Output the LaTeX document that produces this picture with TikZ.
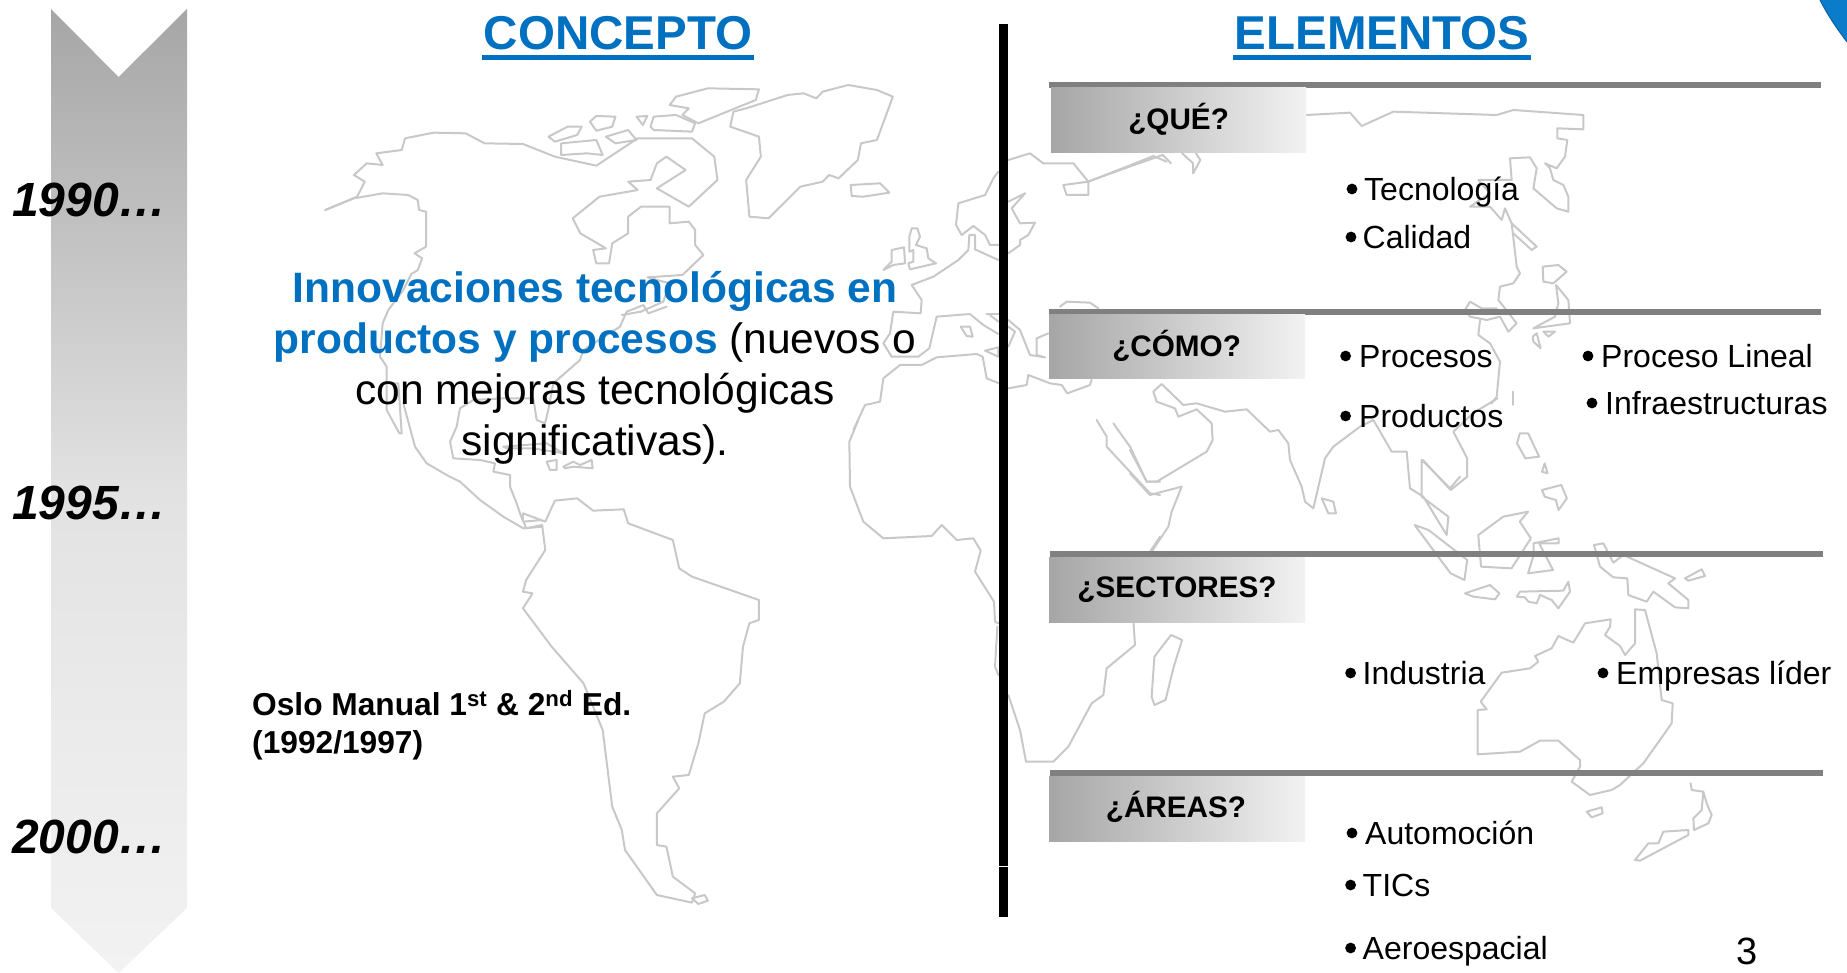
\documentclass[tikz,border=0pt]{standalone}
\usepackage{fontspec}
\setmainfont{Liberation Sans}
\definecolor{titleblue}{HTML}{0070C0}
\definecolor{rulegrey}{HTML}{808080}
\definecolor{mapgrey}{HTML}{C8C8C8}
\definecolor{darkgrad}{HTML}{A6A6A6}
\definecolor{midgrad}{HTML}{E2E2E2}
\definecolor{midlow}{HTML}{EAEAEA}
\definecolor{lightgrad}{HTML}{F2F2F2}
\definecolor{cornerblue}{HTML}{0A7CC9}
\definecolor{corneredge}{HTML}{0A639F}
\pgfdeclareverticalshading{timeline}{100bp}{color(0bp)=(lightgrad); color(25bp)=(lightgrad); color(39bp)=(midlow); color(50bp)=(midgrad); color(75bp)=(darkgrad); color(100bp)=(darkgrad)}
\tikzset{
  zA/.style={shift={(0,0)},x=0.63776pt,y=-0.33333pt},
  zB/.style={shift={(0,480)},x=0.63776pt,y=-0.33333pt},
  zC/.style={shift={(980,0)},x=0.55363pt,y=-0.33333pt},
  zD/.style={shift={(980,480)},x=0.55363pt,y=-0.33333pt},
  zI/.style={shift={#1},x=0.33333pt,y=-0.33333pt},
  maplines/.style={draw=mapgrey,line width=2pt,line join=round,line cap=round},
  title/.style={anchor=base,inner sep=0pt,text=titleblue,font=\fontsize{47.5}{50}\selectfont\bfseries},
  year/.style={anchor=base east,inner sep=0pt,font=\fontsize{48}{50}\selectfont\bfseries\itshape},
  boxlabel/.style={anchor=base,inner sep=0pt,font=\fontsize{29.7}{32}\selectfont\bfseries},
  item/.style={anchor=base west,inner sep=0pt,font=\fontsize{32}{34}\selectfont},
  band/.style={fill=rulegrey,draw=none},
  qbox/.style={left color=darkgrad,middle color=midgrad,right color=lightgrad,draw=none},
}
\begin{document}
\begin{tikzpicture}[x=1pt,y=-1pt]
\useasboundingbox (0,0) rectangle (1847,973);
% ---------- world map ----------
\begin{scope}[zA]
\draw[maplines] (510,630)--(555,595)--(600,580)--(640,585)--(655,600)--(657,630)--(668,635)--(668,740)--(650,760)--(662,775)--(655,810)--(647,820);
\draw[maplines] (510,630)--(560,590)--(572,545)--(555,525)--(575,490)--(600,495)--(590,460)--(630,450)--(635,415)--(680,398)--(730,400)--(760,430)--(820,432)--(870,470)--(935,497)--(1000,415)--(1085,415)--(1120,470)--(1125,540)--(1080,620)--(1030,565)--(1075,510)--(1045,470)--(1030,490)--(1020,540)--(985,545)--(1000,570)--(940,590)--(898,655)--(910,700)--(950,745)--(930,750)--(935,790)--(955,790)--(960,730)--(985,700)--(985,650)--(1005,620)--(1050,620)--(1050,670)--(1080,665)--(1090,690)--(1090,735)--(1103,765)--(1070,825)--(1015,832)--(1050,850)--(1040,905)--(1005,935)--(975,945);
\draw[maplines] (1150,335)--(1145,380)--(1190,410)--(1193,470)--(1170,540)--(1175,650)--(1205,655)--(1255,560)--(1290,545)--(1300,525)--(1315,535)--(1345,480)--(1350,430)--(1375,420)--(1400,290)--(1375,270)--(1330,255)--(1290,275)--(1280,295)--(1260,280)--(1235,285)--(1170,325)--cycle;
\draw[maplines] (1050,315)--(1060,290)--(1110,265)--(1190,268)--(1185,300)--(1095,370)--(1070,345)--(1080,325)--cycle;
\draw[maplines] (860,410)--(890,380)--(912,380)--(905,405)--(870,425)--cycle;
\draw[maplines] (925,365)--(935,348)--(965,350)--(960,380)--(935,392)--cycle;
\draw[maplines] (998,350)--(1015,348)--(1008,375)--cycle;
\draw[maplines] (1020,380)--(1025,350)--(1060,345)--(1090,370)--(1085,395)--(1025,390)--cycle;
\draw[maplines] (950,410)--(985,390)--(998,420)--(965,430)--cycle;
\draw[maplines] (880,430)--(935,420)--(945,465)--(920,460)--(880,465)--cycle;
\end{scope}
\begin{scope}[zI={(360,270)}]
\draw[maplines] (155,10)--(130,60)--(85,120)--(68,160)--(60,260)--(80,290)--(80,420)--(118,490)--(125,490)--(115,340)--(80,340);
\draw[maplines] (130,400)--(165,530)--(200,580)--(260,615)--(300,635)--(360,690)--(430,740)--(490,775)--(548,770);
\draw[maplines] (340,390)--(300,415)--(290,470)--(270,515)--(280,565)--(360,570)--(405,580)--(400,605)--(450,615)--(450,650)--(470,700)--(480,730)--(490,755)--(545,750);
\draw[maplines] (340,390)--(430,385)--(520,385)--(530,450)--(555,460)--(565,420)--(580,340)--(660,270)--(670,240)--(780,170)--(800,125)--(850,105)--(865,130)--(920,110);
\draw[maplines] (430,530)--(560,520)--(610,550)--(520,535)--(440,535)--cycle;
\draw[maplines] (560,575)--(590,570)--(590,600)--(570,600)--cycle;
\draw[maplines] (610,590)--(640,575)--(660,585)--(695,570)--(698,595)--(640,590)--(615,595)--cycle;
\end{scope}
\begin{scope}[zB]
\draw[maplines] (850,135)--(855,210)--(825,300)--(820,335)--(835,340)--(820,385)--(865,500)--(915,610)--(945,750)--(960,980)--(975,1050)--(980,1110)--(1030,1245)--(1085,1268)--(1090,1240)--(1055,1190)--(1045,1100)--(1030,1095)--(1030,1000)--(1065,925)--(1055,890)--(1080,885)--(1095,790)--(1105,700)--(1135,665)--(1160,610)--(1165,500)--(1175,430)--(1190,420)--(1190,360)--(1085,290)--(1065,265)--(1055,180)--(985,130)--(978,88)--(930,92)--(905,55)--(870,62)--(855,125)--(820,100)--(820,120);
\draw[maplines] (820,120)--(825,145)--(850,135);
\draw[maplines] (1085,1255)--(1105,1245)--(1110,1262)--(1095,1272)--cycle;
\end{scope}
\begin{scope}[zI={(830,130)}]
\draw[maplines] (62,165)--(150,160)--(178,188)--(100,200)--(65,198)--cycle;
\draw[maplines] (160,420)--(185,395)--(185,360)--(222,352)--(225,400)--(190,405)--cycle;
\draw[maplines] (238,320)--(245,295)--(262,295)--(270,320)--(258,345)--(290,355)--(295,385)--(318,400)--(240,418)--(235,400)--(250,395)--(250,360)--(238,365)--cycle;
\draw[maplines] (505,125)--(490,145)--(465,195)--(385,220)--(378,285)--(395,315)--(430,288)--(465,315)--(480,345)--(507,345);
\draw[maplines] (505,390)--(435,358)--(435,315)--(418,315)--(415,360)--(385,390)--(310,440)--(245,465)--(275,510)--(272,550)--(190,545)--(180,610)--(160,640)--(185,680)--(265,680)--(298,655)--(320,560)--(420,552)--(460,585)--(505,612);
\draw[maplines] (392,590)--(420,590)--(428,620)--(410,618)--cycle;
\draw[maplines] (465,662)--(505,652)--(505,680)--cycle;
\draw[maplines] (470,552)--(507,552);
\draw[maplines] (480,555)--(505,575);
\draw[maplines] (535,570)--(570,600)--(600,675)--(645,682)--(620,675)--(620,625)--(655,610);
\draw[maplines] (535,590)--(555,605)--(535,650);
\draw[maplines] (70,900)--(105,825)--(150,815)--(160,745)--(210,705)--(275,705)--(320,682)--(440,672)--(458,680)--(470,745)--(507,760);
\draw[maplines] (535,775)--(590,765)--(595,735)--(660,760)--(695,765)--(712,790)--(780,765)--(785,748);
\draw[maplines] (690,530)--(710,515)--(780,518)--(805,535);
\draw[maplines] (535,90)--(600,70)--(640,100)--(730,100)--(775,155)--(700,165)--(710,195)--(775,195)--(775,155)--(890,110)--(970,78)--(1010,95);
\draw[maplines] (535,215)--(585,190)--(545,235)--(570,280)--(615,278)--(595,315)--(570,330)--(570,345)--(535,370);
\end{scope}
\begin{scope}[zC]
\draw[maplines] (345,490)--(330,465)--(270,500)--(195,545);
\draw[maplines] (365,460)--(385,490)--(385,520)--(398,480)--(390,460);
\draw[maplines] (880,1375)--(855,1295)--(890,1240)--(935,1195);
\draw[maplines] (800,1380)--(850,1470)--(880,1430)--(880,1375);
\draw[maplines] (975,1300)--(990,1300)--(1010,1370)--(985,1375)--(970,1330)--cycle;
\draw[maplines] (1020,1390)--(1025,1420)--(1015,1415)--cycle;
\end{scope}
\begin{scope}[zI={(1300,100)}]
\draw[maplines] (20,45)--(150,38)--(185,78)--(280,35)--(590,45)--(640,30)--(850,45)--(850,88)--(772,85)--(772,115)--(802,120)--(795,170)--(770,205)--(735,190)--(750,205)--(760,240)--(790,255)--(805,290)--(805,335)--(770,325)--(700,265)--(710,205)--(690,172)--(630,175)--(635,240)--(535,240)--(570,280)--(510,320)--(570,320)--(605,360)--(615,325)--(635,370)--(650,500)--(660,520)--(640,550)--(600,560)--(595,600)--(650,670)--(625,695)--(600,650)--(560,660)--(510,650)--(495,630)--(510,605)--(545,625)--(590,625);
\draw[maplines] (635,370)--(710,440)--(695,450)--(640,400);
\draw[maplines] (728,500)--(775,495)--(800,515)--(760,550)--(730,545)--cycle;
\draw[maplines] (768,555)--(805,600)--(810,670)--(700,685)--(765,650)--(775,610)--cycle;
\draw[maplines] (730,695)--(765,695)--(745,710)--cycle;
\draw[maplines] (698,710)--(710,700)--(722,745)--(700,725)--cycle;
\draw[maplines] (540,660)--(535,705)--(570,730)--(600,785)--(590,890)--(575,910);
\draw[maplines] (640,875)--(640,915);
\end{scope}
\begin{scope}[zI={(1130,380)}]
\draw[maplines] (0,210)--(50,305)--(80,305)--(230,215)--(248,180)--(245,130)--(200,88)--(145,110)--(135,85)--(80,65)--(70,35)--(95,12)--(160,75)--(200,70)--(285,95)--(350,88)--(420,155)--(445,150)--(475,190)--(480,240)--(515,320)--(525,365)--(550,385)--(585,235)--(610,200)--(690,140)--(730,120)--(785,215)--(830,215)--(840,325)--(880,350)--(950,465)--(955,410)--(875,350)--(875,240)--(960,325)--(990,290);
\draw[maplines] (0,280)--(60,345)--(155,320)--(125,395)--(115,440)--(65,515);
\draw[maplines] (575,355)--(610,365)--(618,400)--(595,400)--cycle;
\end{scope}
\begin{scope}[zI={(830,420)}]
\draw[maplines] (85,0)--(58,65)--(60,200)--(100,305)--(160,355)--(305,348)--(335,315)--(380,360)--(430,355)--(452,392)--(435,455)--(492,545)--(495,605)--(505,610);
\draw[maplines] (502,620)--(495,740)--(505,765);
\draw[maplines] (535,825)--(570,930)--(588,1025)--(670,1025)--(715,980)--(785,850)--(820,825)--(830,745)--(915,675)--(910,600);
\draw[maplines] (960,395)--(990,350);
\draw[maplines] (800,0)--(830,50)--(830,80)--(960,220)--(990,225);
\draw[maplines] (850,10)--(900,80)--(950,185)--(990,185);
\end{scope}
\begin{scope}[zD]
\draw[maplines] (345,465)--(365,480)--(350,560)--(335,660)--(315,675)--(310,650)--(315,530)--cycle;
\draw[maplines] (900,165)--(945,110)--(990,95)--(975,125)--(995,175)--(960,265)--(905,260)--cycle;
\draw[maplines] (1000,190)--(1045,175)--(1045,190)--(1010,190)--(1035,270)--(990,280)--(1000,225)--cycle;
\draw[maplines] (785,135)--(810,150)--(880,240)--(875,300)--(850,280)--cycle;
\draw[maplines] (1015,30)--(1050,15)--(1060,55)--(1045,90)--(1040,60)--(1020,50)--cycle;
\end{scope}
\begin{scope}[zI={(1440,520)}]
\draw[maplines] (75,220)--(150,195)--(178,220)--(165,238)--(100,230)--cycle;
\draw[maplines] (230,230)--(240,215)--(370,212)--(385,185)--(390,215)--(355,265)--(335,240)--(300,225)--(290,250)--(265,245)--(255,232)--cycle;
\draw[maplines] (462,75)--(490,70)--(520,128)--(550,105)--(705,175)--(685,190)--(745,240)--(745,265)--(705,262)--(640,215)--(620,245)--(565,225)--(562,175)--(520,172)--(480,140)--cycle;
\draw[maplines] (735,175)--(785,148)--(795,168)--(745,182)--cycle;
\draw[maplines] (113,570)--(140,568)--(122,545)--(185,458)--(270,445)--(295,425)--(285,408)--(335,385)--(355,348)--(400,368)--(435,310)--(512,298)--(510,320)--(495,345)--(540,378)--(555,405)--(585,370)--(585,268)--(615,270)--(650,400)--(665,540)--(698,550)--(695,610)--(610,730)--(540,795)--(515,810)--(450,825)--(395,785)--(420,740)--(420,720)--(355,662)--(300,662)--(240,695)--(113,703)--cycle;
\draw[maplines] (440,875)--(485,862)--(488,880)--(455,892)--cycle;
\draw[maplines] (752,790)--(755,810)--(790,815)--(800,850)--(815,885)--(805,910)--(762,930)--(760,895)--(785,870)--(790,815);
\draw[maplines] (745,930)--(670,935)--(655,970)--(625,970)--(585,1020)--(600,1022)--(745,945)--cycle;
\end{scope}
% ---------- timeline arrow ----------
\path[shade,shading=timeline,draw=none]
  (51,9)--(118.6,77)--(187,9)--(187,908)--(118.6,973)--(51,908)--cycle;
\node[year] (y1990) at (167,217) {1990…};
\node[year] (y1995) at (167,519) {1995…};
\node[year] (y2000) at (167,853) {2000…};
% ---------- divider ----------
\fill[black] (999,24) rectangle (1008,865.5);
\fill[black] (999,866.5) rectangle (1008,917);
% ---------- headings ----------
\node[title] (concepto) at (618,50) {CONCEPTO};
\fill[titleblue] (482,55) rectangle (754,60);
\node[title] (elementos) at (1382,50) {ELEMENTOS};
\fill[titleblue] (1233,55) rectangle (1531,60);
% ---------- concept text ----------
\node[align=center,inner sep=0pt,anchor=center,font=\fontsize{42.5}{51.2}\selectfont] (concept) at (595,368)
 {\textcolor{titleblue}{\bfseries Innovaciones tecnológicas en}\\
  \textcolor{titleblue}{\bfseries productos y procesos} (nuevos o\\
  con mejoras tecnológicas\\
  significativas).};
\node[align=left,inner sep=0pt,anchor=north west,font=\fontsize{31.7}{38.5}\selectfont\bfseries] (oslo) at (252,690)
 {Oslo Manual 1\textsuperscript{st} \& 2\textsuperscript{nd} Ed.\\(1992/1997)};
% ---------- question bands ----------
\fill[band] (1049,82) rectangle (1821,88);
\fill[band] (1049,309) rectangle (1821,315);
\fill[band] (1050,551) rectangle (1823,557);
\fill[band] (1050,770) rectangle (1823,776);
\path[qbox] (1051,88) rectangle (1306,153);
\path[qbox] (1049,315) rectangle (1305,379);
\path[qbox] (1049,557) rectangle (1305,622);
\path[qbox] (1049,776) rectangle (1305,841);
\node[boxlabel] (que) at (1178.6,130) {¿QUÉ?};
\node[boxlabel] (como) at (1176.6,357) {¿CÓMO?};
\node[boxlabel] (sectores) at (1177,597) {¿SECTORES?};
\node[boxlabel] (areas) at (1176,817) {¿ÁREAS?};
% ---------- bullet items ----------
\foreach \n/\tx/\ty/\bx/\txt in {
 a/1364/200.5/1352/Tecnología,
 b/1362.5/248.5/1351/Calidad,
 c/1359/367.5/1345.6/Procesos,
 d/1359/427.5/1345.6/Productos,
 e/1601/367.5/1588/Proceso Lineal,
 f/1605/414.5/1592/Infraestructuras,
 g/1362.5/684.5/1350.6/Industria,
 h/1616/684.5/1603/Empresas líder,
 i/1365/844.5/1352/Automoción,
 j/1362.5/896.5/1350.6/TICs,
 k/1362.5/959.5/1350.6/Aeroespacial}{
  \fill (\bx,\ty-11.5) circle (5.4);
  \node[item] (item\n) at (\tx,\ty) {\txt};
}
\node[anchor=base,inner sep=0pt,font=\fontsize{38}{40}\selectfont] (pageno) at (1747,964) {3};
% ---------- corner ----------
\fill[cornerblue] (1820,0) .. controls (1828,16) and (1838,30) .. (1847,42) -- (1847,0) -- cycle;
\draw[corneredge,line width=1pt] (1820,0) .. controls (1828,16) and (1838,30) .. (1847,42);
\end{tikzpicture}
\end{document}
